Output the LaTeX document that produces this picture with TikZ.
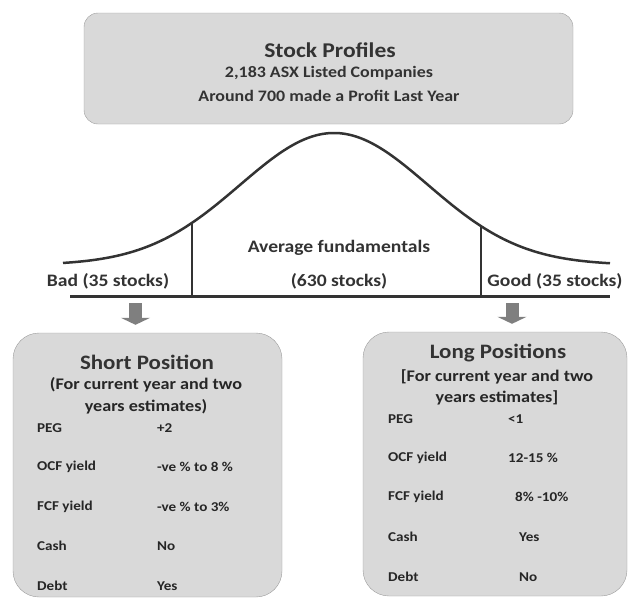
\documentclass[tikz,border=0pt]{standalone}
\usepackage{fontspec}
\setmainfont{Carlito}[FakeStretch=1.12]
\usepackage{tikz}
\usetikzlibrary{arrows.meta}
\usetikzlibrary{positioning}
\definecolor{boxgray}{HTML}{D9D9D9}
\definecolor{edgegray}{HTML}{9C9C9C}
\definecolor{inkgray}{HTML}{333333}
\definecolor{arrowgray}{HTML}{7F7F7F}
\tikzset{panel/.style={draw=edgegray,fill=boxgray,rounded corners=#1,inner sep=0pt},panel/.default=14pt}
\tikzset{rowtxt/.style={anchor=west,inner sep=0pt,text=black!85,font=\fontsize{13.5}{15}\selectfont\bfseries}}
\tikzset{fat/.style={arrowgray,line width=13pt,-{Triangle[width=29pt,length=7pt]},shorten >=8pt}}

\begin{document}
\begin{tikzpicture}[x=1pt,y=-1pt,line join=round,text=inkgray,font=\bfseries]
\useasboundingbox (0,0) rectangle (629,597);
% --- top: the whole population
\node[panel,minimum width=489pt,minimum height=111pt] (profiles) at (328.5,68.5) {};
\node[font=\fontsize{21}{23}\selectfont\bfseries] (ptitle) at (330,50) {Stock Profiles};
\node[font=\fontsize{16}{18}\selectfont\bfseries] (pline1) at (329,73) {2,183 ASX Listed Companies};
\node[font=\fontsize{16}{18}\selectfont\bfseries] (pline2) at (329,96) {Around 700 made a Profit Last Year};
% --- bell curve, split into three groups
\draw[inkgray,line width=2.5pt] plot[domain=63:610,samples=120,smooth] (\x,{265-132*exp(-0.5*((\x-334)/94)^2)});
\coordinate (cl) at (192,{265-132*exp(-0.5*((192-334)/94)^2)}); \coordinate (cr) at (481,{265-132*exp(-0.5*((481-334)/94)^2)});
\coordinate (bl) at (192,296); \coordinate (br) at (481,296);
\coordinate (axl) at (70,296); \coordinate (axr) at (610,296);
\draw[inkgray,line width=3pt] (axl) -- (axr);
\draw[inkgray,line width=2.5pt] (cl) -- (bl); \draw[inkgray,line width=2.5pt] (cr) -- (br);
\node[font=\fontsize{17.5}{19}\selectfont\bfseries] (avg) at (339,248) {Average fundamentals};
\node[font=\fontsize{17.5}{19}\selectfont\bfseries] (mid) at (339,281) {(630 stocks)};
\node[font=\fontsize{17.5}{19}\selectfont\bfseries] (bad) at (108,281) {Bad (35 stocks)};
\node[font=\fontsize{17.5}{19}\selectfont\bfseries] (good) at (555,281) {Good (35 stocks)};
% --- short side
\node[panel=26pt,minimum width=269pt,minimum height=264pt] (short) at (147.5,465) {};
\coordinate (badout) at (135.5,303);
\draw[fat] (badout) -- (short.north -| badout);
\node[font=\fontsize{20.5}{22}\selectfont\bfseries] (stitle) at (147,362) {Short Position};
\node[font=\fontsize{16.2}{18}\selectfont\bfseries,text=black!85] (ssub1) at (146,385) {(For current year and two};
\node[font=\fontsize{16.2}{18}\selectfont\bfseries,text=black!85] (ssub2) at (146,407) {years estimates)};
\node[rowtxt] (s1) at (37,428) {PEG}; \node[rowtxt] (s1v) at (157,428) {+2};
\node[rowtxt] (s2) at (37,467) {OCF yield}; \node[rowtxt] (s2v) at (157,467) {-ve \% to 8 \%};
\node[rowtxt] (s3) at (37,507) {FCF yield}; \node[rowtxt] (s3v) at (157,507) {-ve \% to 3\%};
\node[rowtxt] (s4) at (37,546) {Cash}; \node[rowtxt] (s4v) at (157,546) {No};
\node[rowtxt] (s5) at (37,586) {Debt}; \node[rowtxt] (s5v) at (157,586) {Yes};
% --- long side
\node[panel=26pt,minimum width=264pt,minimum height=264pt] (long) at (495,464) {};
\coordinate (goodout) at (512,303);
\draw[fat] (goodout) -- (long.north -| goodout);
\node[font=\fontsize{20.5}{22}\selectfont\bfseries] (ltitle) at (498,353) {Long Positions};
\node[font=\fontsize{16.2}{18}\selectfont\bfseries,text=black!85] (lsub1) at (497,377) {[For current year and two};
\node[font=\fontsize{16.2}{18}\selectfont\bfseries,text=black!85] (lsub2) at (497,398) {years estimates]};
\node[rowtxt] (l1) at (388,419) {PEG}; \node[rowtxt] (l1v) at (508,419) {<1};
\node[rowtxt] (l2) at (388,458) {OCF yield}; \node[rowtxt] (l2v) at (508,458) {12-15 \%};
\node[rowtxt] (l3) at (388,497) {FCF yield}; \node[rowtxt] (l3v) at (515,497) {8\% -10\%};
\node[rowtxt] (l4) at (388,537) {Cash}; \node[rowtxt] (l4v) at (519,537) {Yes};
\node[rowtxt] (l5) at (388,577) {Debt}; \node[rowtxt] (l5v) at (519,577) {No};
\end{tikzpicture}
\end{document}
